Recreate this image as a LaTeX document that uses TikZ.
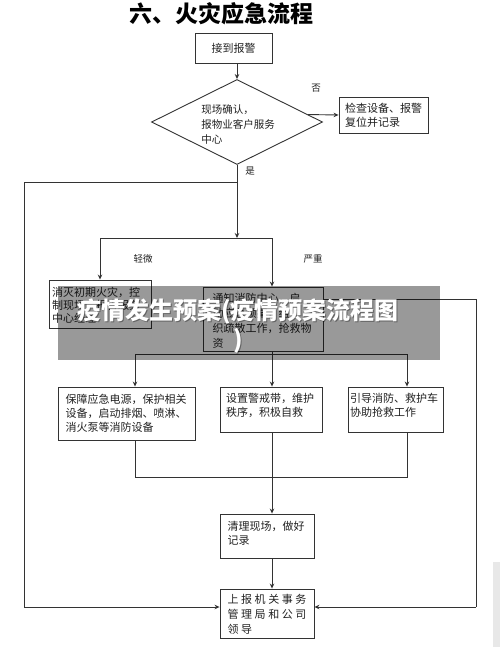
\documentclass[tikz,border=0pt]{standalone}
\usepackage{fontspec}
\newfontfamily\cjk{Noto Sans CJK SC}
\usetikzlibrary{shapes.geometric,arrows.meta}
\definecolor{ln}{HTML}{333333}
\definecolor{tx}{HTML}{222222}
\begin{document}
\begin{tikzpicture}[x=1pt,y=-1pt,
  every node/.style={text=tx},
  box/.style={draw=ln,line width=0.9pt,inner sep=0pt},
  txt/.style={font=\cjk\fontsize{11}{14}\selectfont,align=left,inner sep=0pt},
  lbl/.style={font=\cjk\fontsize{9.5}{11}\selectfont,inner sep=0pt},
  con/.style={draw=ln,line width=0.9pt},
  arr/.style={con,-{Stealth[length=5pt,width=4.5pt]}},
  bannertext/.style={font=\cjk\bfseries\fontsize{24}{29}\selectfont,align=center,inner sep=0pt}]
\useasboundingbox (0,0) rectangle (500,647);
\fill[white] (0,0) rectangle (500,647);
\fill[black!9] (493,562) rectangle (500,647);
% title
\node[font=\cjk\bfseries\fontsize{23}{26}\selectfont,text=black,inner sep=0pt] (title) at (221,14) {六、火灾应急流程};
% boxes
\node[box,minimum width=77,minimum height=30] (alarm) at (233.5,48) {};
\node[txt] (alarmt) at (alarm.center) {接到报警};
\node[box,diamond,minimum width=171,minimum height=85] (dia) at (237,122) {};
\node[txt,font=\cjk\fontsize{10.5}{15}\selectfont] (diat) at (238,124) {现场确认，\\报物业客户服务\\中心};
\node[box,minimum width=89,minimum height=36] (chk) at (383.5,115) {};
\node[txt] (chkt) at (383.5,115) {检查设备、报警\\复位并记录};
\node[box,minimum width=102,minimum height=48] (L) at (100,304) {};
\node[txt,font=\cjk\fontsize{11}{12.8}\selectfont] (Lt) at (96,305.5) {消灭初期火灾，控\\制现场，报告服务\\中心经理};
\node[box,minimum width=120,minimum height=64] (M) at (263,319) {};
\node[txt,font=\cjk\fontsize{11}{15}\selectfont] (Mt) at (262,320.5) {通知消防中心，启\\动应急预案，组\\织疏散工作，抢救物\\资};
\node[box,minimum width=137,minimum height=53] (A) at (126.5,413.5) {};
\node[txt] (At) at (126,413.5) {保障应急电源，保护相关\\设备，启动排烟、喷淋、\\消火泵等消防设备};
\node[box,minimum width=102,minimum height=45] (B) at (271,409.5) {};
\node[txt] (Bt) at (270,405) {设置警戒带，维护\\秩序，积极自救};
\node[box,minimum width=95,minimum height=45] (C) at (395.5,409.5) {};
\node[txt] (Ct) at (394,405) {引导消防、救护车\\协助抢救工作};
\node[box,minimum width=94,minimum height=44] (clean) at (267,536) {};
\node[txt] (cleant) at (266,533) {清理现场，做好\\记录};
\node[box,minimum width=94,minimum height=49] (rep) at (267,613.5) {};
\node[txt,font=\cjk\fontsize{11}{15}\selectfont] (rept) at (267,614) {上\hspace{2.6pt}报\hspace{2.6pt}机\hspace{2.6pt}关\hspace{2.6pt}事\hspace{2.6pt}务\\管\hspace{2.6pt}理\hspace{2.6pt}局\hspace{2.6pt}和\hspace{2.6pt}公\hspace{2.6pt}司\\领\hspace{2.6pt}导};
% labels
\node[lbl] (no) at (316,88) {否};
\node[lbl] (yes) at (250,171) {是};
\node[lbl] (light) at (143,259) {轻微};
\node[lbl] (heavy) at (313,259) {严重};
% coordinates
\coordinate (jY) at (237,182);
\coordinate (jS) at (237,238);
\coordinate (bL) at (100,238);
\coordinate (bR) at (272,238);
\coordinate (lw1) at (24,182);
\coordinate (lw2) at (24,607);
\coordinate (rw1) at (476,299);
\coordinate (rw2) at (476,607);
\coordinate (s1) at (272,354);
\coordinate (sA) at (135,354);
\coordinate (sC) at (407,354);
\coordinate (m1) at (135,477);
\coordinate (m2) at (407,477);
\coordinate (mB) at (272,477);
% connectors
\draw[arr] (dia.north |- alarm.south) -- (dia.north);
\draw[arr] (dia.6) -- (chk.west);
\draw[arr] (dia.south) -- (jS);
\draw[con] (bL) -- (bR);
\draw[arr] (bL) -- (L.north);
\draw[arr] (bR) -- (M.north -| bR);
\draw[con] (jY) -- (lw1) -- (lw2);
\draw[arr] (lw2) -- (rep.west |- lw2);
\draw[con] (M.east |- rw1) -- (rw1) -- (rw2);
\draw[arr] (rw2) -- (rep.east |- rw2);
\draw[con] (M.south -| s1) -- (s1);
\draw[con] (sA) -- (sC);
\draw[arr] (sA) -- (A.north -| sA);
\draw[arr] (s1) -- (B.north -| s1);
\draw[arr] (sC) -- (C.north -| sC);
\draw[con] (A.south -| m1) -- (m1) -- (m2) -- (C.south -| m2);
\draw[arr] (B.south -| mB) -- (clean.north -| mB);
\draw[arr] (clean.south -| mB) -- (rep.north -| mB);
% overlay banner
\fill[black,opacity=0.4] (58,286) rectangle (440,360);
\node[bannertext,text=black,opacity=0.35] (bannersh) at (239,327) {疫情发生预案(疫情预案流程图\\)};
\node[bannertext,text=white] (banner) at (238,326) {疫情发生预案(疫情预案流程图\\)};
\end{tikzpicture}
\end{document}
